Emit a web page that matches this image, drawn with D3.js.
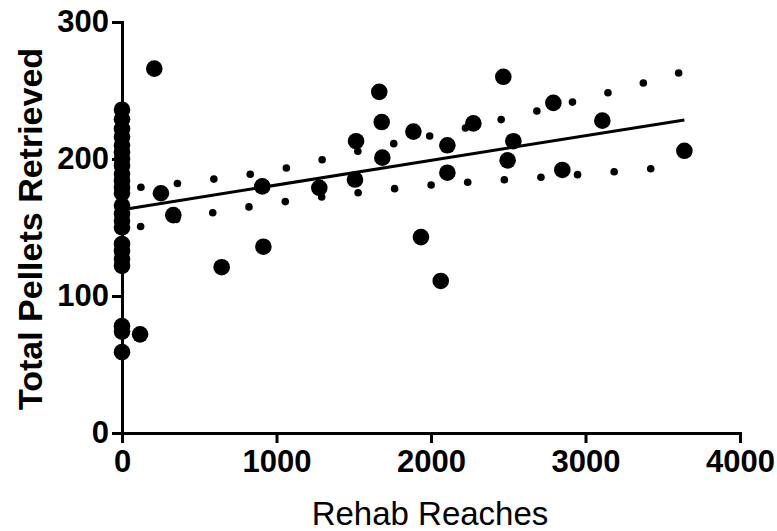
<!DOCTYPE html>
<html lang="en">
<head>
    <meta charset="UTF-8">
    <title>Rehab reaches vs pellets</title>
    <style>
        body {
            margin: 0;
            background-color: #fff;
        }

        svg {
            display: block;
        }

        .axis path,
        .axis line {
            stroke: #000;
            stroke-width: 3;
        }

        .axis text {
            fill: #000;
            font-family: "Liberation Sans", Arial, sans-serif;
            font-weight: bold;
            font-size: 31px;
        }
    </style>
</head>
<body>
    <svg id="chart" width="777" height="531"></svg>

    <script src="https://cdnjs.cloudflare.com/ajax/libs/d3/7.8.5/d3.min.js"></script>
    <script>
        // rehab reaches (x) and total pellets retrieved (y), one entry per animal
        const rehabReaches = [
            0, 0, 0, 0, 0, 0, 0, 0, 0, 0, 0, 0,
            0, 0, 0, 0,
            0, 0, 0, 0,
            0, 0, 0,
            209, 252, 332, 117, 645, 908, 915, 1277,
            1508, 1515, 1665, 1681, 1685, 1886, 1935, 2063,
            2106, 2106, 2274, 2468, 2496, 2533, 2792, 2850,
            3109, 3640
        ];
        const pelletsRetrieved = [
            236, 229, 222, 216, 210, 205, 200, 195, 189, 184, 179, 175,
            166, 160, 155, 150,
            138, 133, 127, 122,
            78, 74, 59,
            266, 175, 159, 72, 121, 180, 136, 179,
            185, 213, 249, 227, 201, 220, 143, 111,
            210, 190, 226, 260, 199, 213, 241, 192,
            228, 206
        ];

        // linear fit
        const fitX = [0, 3640];
        const fitY = [163, 228.5];

        // 95% confidence band
        const bandX = [0, 500, 1000, 1500, 2000, 2500, 3000, 3640];
        const bandUpper = [178, 184, 192, 205, 217, 230, 244, 264];
        const bandLower = [148, 159, 168, 175, 181, 185, 189, 195];

        const xTicks = [0, 1000, 2000, 3000, 4000];
        const yTicks = [0, 100, 200, 300];

        const svg = d3.select('#chart');

        const x = d3.scaleLinear()
            .domain([0, 4000])
            .range([122, 740]);

        const y = d3.scaleLinear()
            .domain([0, 300])
            .range([433, 22]);

        // axes
        svg.append('g')
            .attr('class', 'axis')
            .attr('transform', `translate(0,${y(0)})`)
            .call(d3.axisBottom(x).tickValues(xTicks).tickSize(10).tickSizeOuter(10).tickPadding(7).tickFormat(d3.format('d')));

        svg.append('g')
            .attr('class', 'axis')
            .attr('transform', `translate(${x(0)},0)`)
            .call(d3.axisLeft(y).tickValues(yTicks).tickSize(10).tickSizeOuter(10).tickPadding(3).tickFormat(d3.format('d')));

        // confidence band: dotted, drawn as round dots spaced along the curve
        const bandLine = d3.line()
            .curve(d3.curveMonotoneX)
            .x(d => x(d[0]))
            .y(d => y(d[1]));
        const DOT_GAP = 36.7;
        const DOT_START = 19;

        [bandUpper, bandLower].forEach(band => {
            let guide = svg.append('path')
                .datum(bandX.map((d, i) => [d, band[i]]))
                .attr('fill', 'none')
                .attr('stroke', 'none')
                .attr('d', bandLine);

            let node = guide.node();
            let total = node.getTotalLength();
            let spots = [];
            for (let l = DOT_START; l <= total; l += DOT_GAP) {
                spots.push(node.getPointAtLength(l));
            }

            svg.append('g')
                .selectAll('circle')
                .data(spots)
                .join('circle')
                .attr('cx', p => p.x)
                .attr('cy', p => p.y)
                .attr('r', 3.8)
                .attr('fill', '#000');
        });

        // regression line
        svg.append('line')
            .attr('x1', x(fitX[0]))
            .attr('y1', y(fitY[0]))
            .attr('x2', x(fitX[1]))
            .attr('y2', y(fitY[1]))
            .attr('stroke', '#000')
            .attr('stroke-width', 3);

        // points
        svg.append('g')
            .selectAll('circle')
            .data(rehabReaches)
            .join('circle')
            .attr('cx', d => x(d))
            .attr('cy', (d, i) => y(pelletsRetrieved[i]))
            .attr('r', 8.3)
            .attr('fill', '#000');

        // axis titles
        svg.append('text')
            .attr('x', 430)
            .attr('y', 525)
            .attr('text-anchor', 'middle')
            .attr('font-family', '"Liberation Sans", Arial, sans-serif')
            .attr('font-size', 33)
            .text('Rehab Reaches');

        svg.append('text')
            .attr('transform', 'translate(42,229) rotate(-90)')
            .attr('text-anchor', 'middle')
            .attr('font-family', '"Liberation Sans", Arial, sans-serif')
            .attr('font-weight', 'bold')
            .attr('font-size', 34)
            .text('Total Pellets Retrieved');
    </script>
</body>
</html>
